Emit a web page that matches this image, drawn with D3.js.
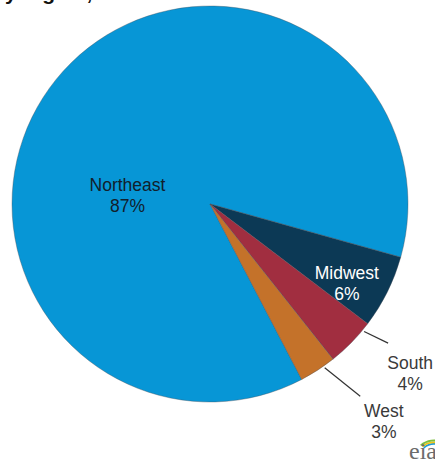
<!DOCTYPE html>
<html>
<head>
<meta charset="utf-8">
<script src="https://cdn.jsdelivr.net/npm/d3@7"></script>
<style>
  html, body { margin: 0; padding: 0; background: #ffffff; }
  svg { display: block; }
</style>
</head>
<body>
<svg id="chart" width="435" height="460"></svg>
<script>
// Share of total by region, 2015 (percent)
const categories = ["Northeast", "Midwest", "South", "West"];
const shares = [87, 6, 4, 3];
const sliceColors = ["#0796d6", "#0c3955", "#a12e40", "#c4722a"];
const labelColors = ["#12202c", "#ffffff", "#3a3a3a", "#3a3a3a"];
const titleText = "by region, 2015";

const width = 435, height = 460;
const cx = 210, cy = 204, radius = 198;
const deg = Math.PI / 180;
const start = 152.4 * deg;

const svg = d3.select("#chart");

// Title (runs off the top edge)
svg.append("text")
  .attr("x", 145).attr("y", 0)
  .attr("text-anchor", "end")
  .attr("font-family", "Liberation Sans, Arial, sans-serif")
  .attr("font-size", 21).attr("font-weight", "bold")
  .attr("fill", "#111")
  .text(titleText);

const pie = d3.pie().sort(null).value(d => d)
  .startAngle(start).endAngle(start + 2 * Math.PI);
const arcs = pie(shares);
const arc = d3.arc().innerRadius(0).outerRadius(radius);

const g = svg.append("g").attr("transform", `translate(${cx},${cy})`);

g.selectAll("path.slice")
  .data(arcs)
  .join("path")
  .attr("class", "slice")
  .attr("d", arc)
  .attr("fill", (d, i) => sliceColors[i])
  .attr("stroke", "rgba(70,80,90,0.55)")
  .attr("stroke-width", 0.7);

// polar helper: angle measured clockwise from 12 o'clock
const polar = (a, r) => [Math.sin(a) * r, -Math.cos(a) * r];
const mid = d => (d.startAngle + d.endAngle) / 2;

// label placement: angular offset from slice mid-angle and distance from centre
const labelLayout = [
  { da: -32.7 * deg, r: 83 },
  { da: 3.6 * deg, r: 158 },
  { da: -4.2 * deg, r: 262 },
  { da: -5.7 * deg, r: 278 }
];
// leader lines for the labels placed outside the pie
const leaderLayout = [
  null,
  null,
  { da0: -4.8 * deg, r0: radius + 2, da1: -6.4 * deg, r1: 226 },
  { da0: -2.0 * deg, r0: radius + 2, da1: -5.0 * deg, r1: 244 }
];

g.selectAll("line.leader")
  .data(arcs.filter((d, i) => leaderLayout[i]))
  .join("line")
  .attr("class", "leader")
  .each(function (d) {
    const L = leaderLayout[d.index];
    const p0 = polar(mid(d) + L.da0, L.r0);
    const p1 = polar(mid(d) + L.da1, L.r1);
    d3.select(this)
      .attr("x1", p0[0]).attr("y1", p0[1])
      .attr("x2", p1[0]).attr("y2", p1[1]);
  })
  .attr("stroke", "#333")
  .attr("stroke-width", 1.2);

const labels = g.selectAll("text.label")
  .data(arcs)
  .join("text")
  .attr("class", "label")
  .attr("text-anchor", "middle")
  .attr("font-family", "Liberation Sans, Arial, sans-serif")
  .attr("font-size", 17.5)
  .attr("fill", (d, i) => labelColors[i])
  .attr("transform", d => {
    const L = labelLayout[d.index];
    const p = polar(mid(d) + L.da, L.r);
    return `translate(${p[0]},${p[1]})`;
  });

labels.append("tspan")
  .attr("x", 0).attr("y", -4)
  .text((d, i) => categories[i]);
labels.append("tspan")
  .attr("x", 0).attr("y", 17)
  .text(d => d.data + "%");

// agency mark in the lower-right corner (runs off the right edge)
const logo = svg.append("g").attr("transform", "translate(424,452)");
const bands = ["#1f9bd7", "#f0c419", "#7cbf3f"];
bands.forEach((c, i) => {
  logo.append("path")
    .attr("d", d3.arc()
      .innerRadius(15 + i * 2.4).outerRadius(16.8 + i * 2.4)
      .startAngle(-40 * deg).endAngle(25 * deg)())
    .attr("transform", `translate(10,${8 + i * 0.6})`)
    .attr("fill", c);
});
logo.append("text")
  .attr("x", -15).attr("y", 7)
  .attr("font-family", "Liberation Serif, Times New Roman, serif")
  .attr("font-size", 24)
  .attr("fill", "#6b6b6b")
  .text("eia");
</script>
</body>
</html>
